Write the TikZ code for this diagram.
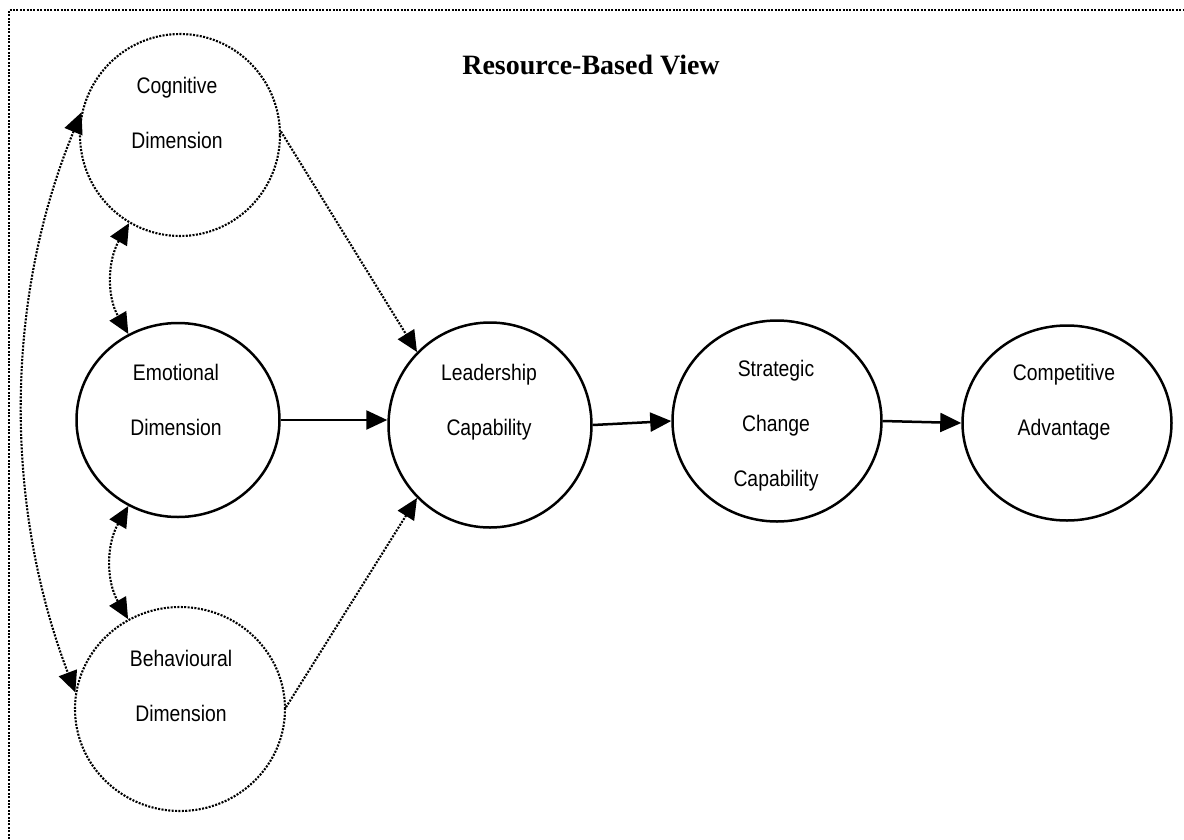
\documentclass[tikz,border=0pt]{standalone}
\usepackage{fontspec}
\setmainfont{Liberation Serif}
\newfontfamily\arialf{Liberation Sans}
\usetikzlibrary{arrows.meta,shapes.geometric}
\newcommand\sq[1]{\scalebox{0.86}[1]{#1}}
\begin{document}
\begin{tikzpicture}[x=1pt,y=-1pt,
  solidc/.style={ellipse,draw,line width=2.5pt,inner sep=0pt},
  dotc/.style={ellipse,draw,line width=2.1pt,dash pattern=on 2pt off 1.4pt,inner sep=0pt},
  lbl/.style={align=center,font=\arialf\fontsize{22.5}{55}\selectfont,inner sep=0pt},
  tip/.style={-{Triangle[length=21pt,width=19pt]}},
  arr/.style={line width=2.5pt,tip},
  darr/.style={line width=2.1pt,dash pattern=on 2pt off 1.4pt,tip},
  dd/.style={line width=2.1pt,dash pattern=on 2pt off 1.4pt,{Triangle[length=21pt,width=19pt]}-{Triangle[length=21pt,width=19pt]}},
  frame/.style={line width=2.1pt,dash pattern=on 2pt off 1.4pt}
]
\useasboundingbox (0,0) rectangle (1184,839);
\draw[frame] (9,839) -- (9,10) -- (1184,10);

\node[font=\bfseries\fontsize{28}{30}\selectfont,inner sep=0pt] (title) at (591,65) {Resource-Based View};

\node[dotc,minimum width=200pt,minimum height=202pt] (cog) at (180,135) {};
\node[solidc,minimum width=203pt,minimum height=194pt] (emo) at (178,420) {};
\node[dotc,minimum width=210pt,minimum height=204pt] (beh) at (180,709) {};
\node[solidc,minimum width=203pt,minimum height=205pt] (lead) at (490,425) {};
\node[solidc,minimum width=209pt,minimum height=201pt] (strat) at (777,421) {};
\node[solidc,minimum width=209pt,minimum height=195pt] (comp) at (1067,423) {};

\node[lbl] (cogt) at (177,113) {\sq{Cognitive}\\\sq{Dimension}};
\node[lbl] (emot) at (176,400) {\sq{Emotional}\\\sq{Dimension}};
\node[lbl] (beht) at (181,686) {\sq{Behavioural}\\\sq{Dimension}};
\node[lbl] (leadt) at (489,402) {\sq{Leadership}\\\sq{Capability}};
\node[lbl] (stratt) at (776,426) {\sq{Strategic}\\\sq{Change}\\\sq{Capability}};
\node[lbl] (compt) at (1064,402) {\sq{Competitive}\\\sq{Advantage}};

\draw[arr] (emo.east) -- (lead.west |- emo.east);
\draw[arr] (lead.east) -- (strat.west);
\draw[arr] (strat.east) -- (comp.west);

\draw[darr] (cog.2) -- (lead.135);
\draw[darr] (beh.1) -- (lead.225);

\draw[dd] (cog.240) to[out=240,in=120] (emo.120);
\draw[dd] (emo.240) to[out=240,in=120] (beh.120);
\draw[dd] (cog.167) .. controls (4,300) and (4,505) .. (beh.171);
\end{tikzpicture}
\end{document}
